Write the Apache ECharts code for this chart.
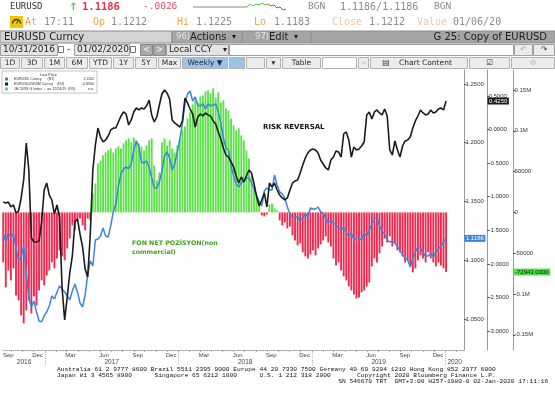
<!DOCTYPE html>
<html>
<head>
<meta charset="utf-8">
<title>EURUSD Curncy</title>
<script src="https://cdn.jsdelivr.net/npm/echarts@6.0.0/dist/echarts.min.js"></script>
<style>
  html, body { margin: 0; padding: 0; background: #fff; }
  #chart { width: 555px; height: 400px; }
</style>
</head>
<body>
<div id="chart"></div>
<script>
// weekly data, first point = week of 09 Sep 2016, last = 03 Jan 2020
var eurusd = [
  1.1232, 1.1155, 1.1232, 1.1198, 1.1223, 1.1104, 1.0994, 1.1028, 1.1121, 1.0900,
  1.0679, 1.0602, 1.0653, 1.0560, 1.0483, 1.0475, 1.0526, 1.0560, 1.0611, 1.0696,
  1.0670, 1.0730, 1.0781, 1.0755, 1.0730, 1.0696, 1.0662, 1.0738, 1.0798, 1.0730,
  1.0636, 1.0602, 1.0704, 1.0875, 1.0994, 1.0951, 1.1172, 1.1181, 1.1206, 1.1275,
  1.1206, 1.1198, 1.1292, 1.1411, 1.1479, 1.1632, 1.1734, 1.1777, 1.1794, 1.1777,
  1.1819, 1.1938, 1.2015, 1.1964, 1.1836, 1.1828, 1.1845, 1.1794, 1.1700, 1.1615,
  1.1615, 1.1666, 1.1760, 1.1887, 1.1921, 1.1870, 1.1768, 1.1819, 1.1921, 1.2032,
  1.2160, 1.2338, 1.2415, 1.2440, 1.2355, 1.2389, 1.2321, 1.2313, 1.2330, 1.2287,
  1.2330, 1.2313, 1.2321, 1.2330, 1.2262, 1.2168, 1.2040, 1.1955, 1.1938, 1.1802,
  1.1717, 1.1649, 1.1623, 1.1658, 1.1675, 1.1700, 1.1700, 1.1658, 1.1606, 1.1555,
  1.1496, 1.1462, 1.1589, 1.1615, 1.1598, 1.1598, 1.1726, 1.1640, 1.1581, 1.1564,
  1.1530, 1.1453, 1.1394, 1.1360, 1.1368, 1.1368, 1.1334, 1.1360, 1.1394, 1.1368,
  1.1445, 1.1436, 1.1436, 1.1453, 1.1411, 1.1402, 1.1351, 1.1317, 1.1343, 1.1317,
  1.1300, 1.1275, 1.1258, 1.1283, 1.1232, 1.1206, 1.1232, 1.1172, 1.1189, 1.1189,
  1.1172, 1.1232, 1.1206, 1.1258, 1.1309, 1.1351, 1.1368, 1.1292, 1.1249, 1.1223,
  1.1172, 1.1155, 1.1164, 1.1147, 1.1113, 1.1087, 1.1045, 1.1019, 1.1002, 1.0943,
  1.1019, 1.1070, 1.1113, 1.1104, 1.1062, 1.1036, 1.1036, 1.1062, 1.1028, 1.1070,
  1.1096, 1.1121, 1.1155, 1.1186
];
var riskReversal = [
  -1.079, -1.094, -1.079, -1.153, -1.123, -1.243, -1.213, -1.019, -0.751, -0.200,
  -0.602, -1.615, -1.675, -1.675, -1.660, -1.377, -0.900, -0.796, -0.975, -1.049,
  -1.258, -1.123, -1.302, -2.360, -2.836, -2.494, -2.136, -1.883, -1.377, -1.332,
  -1.555, -1.749, -2.077, -2.196, -1.570, -0.602, -0.230, 0.023, -0.111, -0.185,
  -0.155, -0.096, -0.006, 0.023, 0.023, 0.113, 0.202, 0.262, 0.232, 0.068,
  0.143, 0.262, 0.321, 0.292, 0.321, 0.306, 0.351, 0.440, 0.217, 0.113,
  0.187, 0.366, 0.530, 0.589, 0.545, 0.455, 0.143, 0.098, 0.068, 0.038,
  0.128, 0.470, 0.396, 0.306, 0.232, 0.038, 0.187, 0.232, 0.202, 0.247,
  0.217, 0.202, 0.128, 0.083, -0.036, -0.140, -0.274, -0.379, -0.409, -0.483,
  -0.557, -0.692, -0.796, -0.706, -0.781, -0.692, -0.602, -0.647, -0.811, -1.004,
  -1.138, -1.049, -0.945, -1.153, -0.796, -0.855, -0.796, -0.900, -0.975, -1.019,
  -1.049, -1.019, -0.900, -0.796, -0.766, -0.751, -0.647, -0.528, -0.423, -0.349,
  -0.304, -0.289, -0.304, -0.349, -0.453, -0.513, -0.572, -0.602, -0.453, -0.409,
  -0.319, -0.334, -0.409, -0.066, -0.036, -0.155, -0.409, -0.260, -0.304, -0.289,
  -0.245, -0.185, 0.217, 0.262, 0.157, 0.262, 0.292, 0.247, 0.217, 0.306,
  0.202, -0.304, -0.379, -0.170, -0.304, -0.409, -0.245, -0.170, -0.155, -0.111,
  0.023, 0.128, 0.202, 0.292, 0.247, 0.217, 0.232, 0.292, 0.247, 0.262,
  0.306, 0.321, 0.292, 0.425
];
var netPositions = [
  -61300, -91900, -71100, -83300, -68600, -101700, -107800, -126200, -136000, -120100,
  -107800, -123800, -102900, -114000, -95600, -83300, -89500, -77200, -71100, -61300,
  -68600, -56400, -46600, -53900, -58800, -44100, -31900, -15900, -22100, -9800,
  -7400, -15900, -22100, -7400, -9800, 23300, 35500, 60000, 63700, 69900,
  73500, 76000, 78400, 73500, 78400, 80900, 78400, 84600, 88200, 90700,
  85800, 91900, 88200, 84600, 80900, 76000, 82100, 88200, 90700, 57600,
  39200, 49000, 85800, 90700, 82100, 88200, 78400, 73500, 82100, 90700,
  100500, 105400, 115200, 122600, 132400, 137300, 134800, 142200, 143400, 148300,
  149500, 145800, 152000, 140900, 147100, 134800, 137300, 127500, 125000, 115200,
  106600, 100500, 102900, 94400, 88200, 76000, 66200, 45300, 29400, 20800,
  8600, -3700, -4900, -2500, 9800, 11000, 4900, 2500, -9800, -15900,
  -12300, -19600, -17200, -28200, -34300, -40400, -38000, -49000, -53900, -56400,
  -51500, -46600, -52700, -44100, -39200, -34300, -29400, -36800, -41700, -56400,
  -65000, -61300, -71100, -78400, -83300, -90700, -95600, -100500, -105400, -104200,
  -98000, -95600, -90700, -85800, -66200, -56400, -61300, -50200, -41700, -31900,
  -36800, -29400, -41700, -38000, -46600, -49000, -53900, -61300, -58800, -66200,
  -73500, -68600, -58800, -52700, -56400, -61300, -49000, -56400, -61300, -66200,
  -61300, -65000, -68600, -72943
];

// axis labels
var monthLabels = [[2016, 8], [2016, 11], [2017, 2], [2017, 5], [2017, 8], [2017, 11],
  [2018, 2], [2018, 5], [2018, 8], [2018, 11], [2019, 2], [2019, 5], [2019, 8], [2019, 11]];
var monthNames = ['Jan', 'Feb', 'Mar', 'Apr', 'May', 'Jun', 'Jul', 'Aug', 'Sep', 'Oct', 'Nov', 'Dec'];
var yearLabels = [2016, 2017, 2018, 2019, 2020];
var eurusdTicks = [1.05, 1.10, 1.15, 1.20, 1.25];
var rrTicks = [-3, -2.5, -2, -1.5, -1, -0.5, 0, 0.5];
var posTicks = [-150000, -100000, -50000, 0, 50000, 100000, 150000];
var lastEurusd = 1.1186, lastRR = 0.425, lastPos = -72943;
var legendRows = [
  ['EURUSD Curncy', 'EURUSD Curncy      (R1)', '1.1162', '#3b84dc'],
  ['EURUSD25R3M Curncy', 'EURUSD25R3M Curncy    (R2)', '-0.8900', '#1b1b1b'],
  ['JECURS G Index', 'JECURS G Index  -  on 12/24/19  (R3)', 'n.a.', '#5ee04a']
];

// week index of a calendar date (x axis is in weeks from the first point)
function weekOf(y, m, d) {
  return (Date.UTC(y, m, d) - Date.UTC(2016, 8, 9)) / 6048e5;
}
var xMax = 180;
var monthPos = monthLabels.map(function (p) { return { v: Math.max(2, weekOf(p[0], p[1], 12)), t: monthNames[p[1]] }; });
var monthStarts = [];
for (var k = 0; k < 41; k++) monthStarts.push(weekOf(2016, 9 + k, 1));
var yearStarts = yearLabels.slice(1).map(function (y) { return weekOf(y, 0, 1); });
var yearPos = yearLabels.map(function (y, i) {
  var a = i === 0 ? 0 : yearStarts[i - 1];
  var b = i === yearLabels.length - 1 ? xMax : yearStarts[i];
  return { v: (a + b) / 2, t: String(y) };
});
function nearest(list, v) {
  var best = list[0];
  list.forEach(function (it) { if (Math.abs(it.v - v) < Math.abs(best.v - v)) best = it; });
  return best.t;
}

var tickFont = 'Liberation Sans';
function rightAxis(min, max, offset, ticks, fmt) {
  return {
    type: 'value', position: 'right', min: min, max: max, offset: offset,
    axisLine: { show: true, onZero: false, lineStyle: { color: '#9a9a9a', width: 1 } },
    axisTick: { show: true, length: 2.5, customValues: ticks, lineStyle: { color: '#555' } },
    axisLabel: { customValues: ticks, formatter: fmt, margin: 1.5, fontSize: 6, color: '#333', fontFamily: tickFont },
    splitLine: { show: false }
  };
}
function lastAxis(min, max, offset, value, text, bg, fg) {
  return {
    type: 'value', position: 'right', min: min, max: max, offset: offset,
    axisLine: { show: false, onZero: false }, axisTick: { show: false }, splitLine: { show: false },
    axisLabel: {
      customValues: [value], formatter: function () { return text; }, margin: 0.5,
      fontSize: 6, color: fg, backgroundColor: bg, padding: [0.5, 1.5, 0.5, 1.5], fontFamily: tickFont
    }
  };
}
function fmtM(v) {
  if (v === 0) return '0';
  if (Math.abs(v) >= 100000) return (v / 1e6) + 'M';
  return String(v);
}

// ---- terminal header / footer drawn as graphic elements ----
var g = [];
function T(x, y, s, fill, font, align) {
  g.push({ type: 'text', x: x, y: y, silent: true,
    style: { text: s, fill: fill, font: font, textAlign: align || 'left', textVerticalAlign: 'middle',
      align: align || 'left', verticalAlign: 'middle' } });
}
function R(x, y, w, h, fill, stroke) {
  g.push({ type: 'rect', silent: true, shape: { x: x, y: y, width: w, height: h },
    style: { fill: fill, stroke: stroke || null, lineWidth: stroke ? 1 : 0 } });
}
function P(points, color) {
  g.push({ type: 'polyline', silent: true, shape: { points: points }, style: { stroke: color, lineWidth: 1, fill: null } });
}
var mono = 'DejaVu Sans Mono', sans = 'DejaVu Sans';
var orange = '#f5a24a', lightOrange = '#f7c49a', grey = '#8a8a8a';
// row 1
T(10, 7, 'EURUSD', '#333', '9px ' + mono);
T(69, 7, '↑', '#3ecf3e', 'bold 10px ' + sans);
T(82, 7, '1.1186', '#ee2d43', 'bold 10.5px ' + mono);
T(143, 7, '-.0026', '#f04a5a', '9.5px ' + mono);
P([[193, 7], [247, 7]], '#888');
P([[247, 7], [250, 4], [253, 6], [256, 4], [259, 5], [262, 3], [265, 5], [268, 4]], '#3ecf3e');
P([[268, 4], [271, 6], [274, 5], [277, 8], [280, 7], [283, 10], [286, 9]], '#ee2d43');
T(308, 7, 'BGN', grey, '9.5px ' + mono);
T(340, 7, '1.1186/1.1186', grey, '10px ' + mono);
T(434, 7, 'BGN', grey, '9.5px ' + mono);
// row 2
R(10, 16, 13, 12, '#f3c400');
g.push({ type: 'arc', silent: true, shape: { cx: 16.5, cy: 23.5, r: 4, startAngle: Math.PI, endAngle: 2 * Math.PI },
  style: { stroke: '#333', lineWidth: 1.4, fill: null } });
P([[16.5, 23.5], [18.5, 20]], '#333');
T(25, 22, 'At', orange, '10px ' + mono);
T(44, 22, '17:11', grey, '10px ' + mono);
T(93, 22, 'Op', orange, '10px ' + mono);
T(111, 22, '1.1212', grey, '10px ' + mono);
T(177, 22, 'Hi', orange, '10px ' + mono);
T(196, 22, '1.1225', grey, '10px ' + mono);
T(254, 22, 'Lo', orange, '10px ' + mono);
T(274, 22, '1.1183', grey, '10px ' + mono);
T(332, 22, 'Close', lightOrange, '10px ' + mono);
T(369, 22, '1.1212', grey, '10px ' + mono);
T(417, 22, 'Value', lightOrange, '10px ' + mono);
T(453, 22, '01/06/20', grey, '10px ' + mono);
// row 3
R(0, 31, 172, 12, '#d3d3d3', '#8e8e8e');
T(4, 37, 'EURUSD Curncy', '#1e1e1e', '10px ' + sans);
R(172, 31, 70, 12, '#a5a5a5', '#8e8e8e');
T(176, 37, '96)', '#e4e4e4', '8.5px ' + sans);
T(190, 37, 'Actions', '#1e1e1e', '10px ' + sans);
T(232, 37, '▾', '#1e1e1e', '8px ' + sans);
R(242, 31, 69, 12, '#a5a5a5', '#8e8e8e');
T(255, 37, '97)', '#e4e4e4', '8.5px ' + sans);
T(269, 37, 'Edit', '#1e1e1e', '10px ' + sans);
T(294, 37, '▾', '#1e1e1e', '8px ' + sans);
R(311, 31, 244, 12, '#a5a5a5', '#8e8e8e');
T(547, 37, 'G 25: Copy of EURUSD', '#1e1e1e', '10px ' + sans, 'right');
// row 4
R(0.5, 44.5, 57, 11, '#e4e4e4', '#a0a0a0');
T(3, 50, '10/31/2016', '#1e1e1e', '9px ' + sans);
R(58.5, 46.5, 5, 6, '#fff', '#777');
T(67, 50, '-', '#333', '9px ' + sans);
R(74.5, 44.5, 55, 11, '#e4e4e4', '#a0a0a0');
T(77, 50, '01/02/2020', '#1e1e1e', '9px ' + sans);
R(130.5, 46.5, 5, 6, '#fff', '#777');
R(140.5, 44.5, 12, 11, '#a9a9a9', '#888');
T(146.5, 50, '<', '#eee', 'bold 8px ' + sans, 'center');
R(153.5, 44.5, 12, 11, '#a9a9a9', '#888');
T(159.5, 50, '>', '#eee', 'bold 8px ' + sans, 'center');
R(166.5, 44.5, 62, 11, '#e4e4e4', '#a0a0a0');
T(169, 50, 'Local CCY', '#1e1e1e', '8.8px ' + sans);
T(223, 50, '▾', '#1e1e1e', '8px ' + sans);
R(229.5, 44.5, 284, 11, '#fff', '#a0a0a0');
R(514.5, 44.5, 18, 11, '#ececec', '#a0a0a0');
T(523.5, 50, '↶', '#aaa', '8px ' + sans, 'center');
R(533.5, 44.5, 21, 11, '#ececec', '#a0a0a0');
T(544, 50, '↷', '#333', '8px ' + sans, 'center');
// row 5 buttons
var buttons = [['1D', 0, 20], ['3D', 21, 43], ['1M', 44, 65], ['6M', 66, 88], ['YTD', 89, 112],
  ['1Y', 113, 134], ['5Y', 135, 157], ['Max', 158, 181], ['Weekly ▼', 182, 228, '#9cc3ea'],
  ['', 229, 245, '#9cc3ea'], ['', 246, 265], ['▾', 266, 281], ['Table', 282, 321], ['', 322, 357, '#fff'],
  ['«', 358, 369], ['Chart Content', 370, 468], ['☑', 469, 510], ['⚙', 511, 555]];
buttons.forEach(function (b) {
  R(b[1] + 0.5, 57.5, b[2] - b[1] - 1, 11, b[3] || '#ececec', '#b0b0b0');
  if (b[0] === 'Chart Content') {
    T(386, 63, '▤', '#333', '8px ' + sans, 'center');
    T(399, 63, b[0], '#2a2a2a', '7.5px ' + sans);
  } else if (b[0]) {
    var c = b[0] === '⚙' || b[0] === '«' ? '#bbb' : '#2a2a2a';
    T((b[1] + b[2]) / 2, 63, b[0], c, '7.5px ' + sans, 'center');
  }
});
// annotations
T(263, 127, 'RISK REVERSAL', '#111', 'bold 7px ' + sans);
T(132, 243, 'FON NET POZİSYON(non', '#3f9f1e', 'bold 6.3px ' + sans);
T(132, 252, 'commercial)', '#3f9f1e', 'bold 6.3px ' + sans);
// footer
var foot = 'Liberation Mono';
T(57, 369.5, 'Australia 61 2 9777 8600 Brazil 5511 2395 9000 Europe 44 20 7330 7500 Germany 49 69 9204 1210 Hong Kong 852 2977 6000', '#111', '6.25px ' + foot);
T(57, 375.5, 'Japan 81 3 4565 8900      Singapore 65 6212 1000      U.S. 1 212 318 2000       Copyright 2020 Bloomberg Finance L.P.', '#111', '6.25px ' + foot);
T(57, 381.5, '                                                                           SN 546679 TRT  GMT+3:00 H257-1980-0 02-Jan-2020 17:11:16', '#111', '6.25px ' + foot);

var eurMin = 1.0236, eurMax = 1.2619;
var rrMin = -3.283, rrMax = 0.887;
var posMin = -168630, posMax = 174510;

var chart = echarts.init(document.getElementById('chart'), null, { renderer: 'canvas' });
chart.setOption({
  animation: false,
  backgroundColor: '#fff',
  grid: { left: 0, right: 91, top: 70, bottom: 50, containLabel: false },
  title: { text: 'Last Price', left: 40, top: 72.5, padding: 0, z: 10,
    textStyle: { fontSize: 3.8, fontWeight: 'normal', color: '#333', fontFamily: tickFont } },
  legend: {
    orient: 'vertical', left: 2, top: 71, padding: [6, 3, 2, 3], itemGap: 1, itemWidth: 3, itemHeight: 3,
    icon: 'rect', backgroundColor: '#fff', borderColor: '#9a9a9a', borderWidth: 0.6, selectedMode: false,
    data: legendRows.map(function (r) { return { name: r[0], itemStyle: { color: r[3] } }; }),
    formatter: function (name) {
      var r = legendRows.filter(function (x) { return x[0] === name; })[0];
      return '{n|' + r[1] + '}{v|' + r[2] + '}';
    },
    textStyle: { fontSize: 3.6, color: '#333', fontFamily: tickFont, padding: [0, 0, 0, 1],
      rich: { n: { width: 59, fontSize: 3.6 }, v: { width: 21, align: 'right', fontSize: 3.6 } } }
  },
  xAxis: [
    { type: 'value', min: 0, max: xMax, position: 'bottom',
      axisLine: { show: true, onZero: false, lineStyle: { color: '#aaa', type: 'dotted' } },
      axisTick: { show: true, customValues: monthStarts, length: 2, lineStyle: { color: '#aaa' } },
      axisLabel: { customValues: monthPos.map(function (m) { return m.v; }), margin: 2, fontSize: 6, color: '#444',
        fontFamily: tickFont, formatter: function (v) { return nearest(monthPos, v); } },
      splitLine: { show: false } },
    { type: 'value', min: 0, max: xMax, position: 'bottom',
      axisLine: { show: false, onZero: false },
      axisTick: { show: true, customValues: yearStarts, length: 16, lineStyle: { color: '#bbb', type: 'dotted' } },
      axisLabel: { customValues: yearPos.map(function (m) { return m.v; }), margin: 9, fontSize: 6.5, color: '#444',
        fontFamily: tickFont, formatter: function (v) { return nearest(yearPos, v); } },
      splitLine: { show: false } }
  ],
  yAxis: [
    rightAxis(eurMin, eurMax, 0, eurusdTicks, function (v) { return v.toFixed(4); }),
    rightAxis(rrMin, rrMax, 23, rrTicks, function (v) { return v.toFixed(4); }),
    rightAxis(posMin, posMax, 49, posTicks, fmtM),
    lastAxis(eurMin, eurMax, 0, lastEurusd, lastEurusd.toFixed(4), '#3b84dc', '#fff'),
    lastAxis(rrMin, rrMax, 23, lastRR, lastRR.toFixed(4), '#1b1b1b', '#fff'),
    lastAxis(posMin, posMax, 49, lastPos, lastPos.toFixed(4), '#4fe34a', '#111')
  ],
  series: [
    { type: 'bar', name: 'JECURS G Index', xAxisIndex: 0, yAxisIndex: 2, barWidth: 1.9,
      data: netPositions.map(function (v, i) { return [i, v]; }),
      itemStyle: { color: function (p) { return p.value[1] >= 0 ? '#5ee04a' : '#f4284f'; } } },
    { type: 'line', name: 'EURUSD Curncy', xAxisIndex: 0, yAxisIndex: 0, symbol: 'none',
      data: eurusd.map(function (v, i) { return [i, v]; }),
      lineStyle: { color: '#3b84dc', width: 1.5 }, itemStyle: { color: '#3b84dc' } },
    { type: 'line', name: 'EURUSD25R3M Curncy', xAxisIndex: 0, yAxisIndex: 1, symbol: 'none',
      data: riskReversal.map(function (v, i) { return [i, v]; }),
      lineStyle: { color: '#1b1b1b', width: 1.6 }, itemStyle: { color: '#1b1b1b' } }
  ],
  graphic: { elements: g }
});
</script>
</body>
</html>
